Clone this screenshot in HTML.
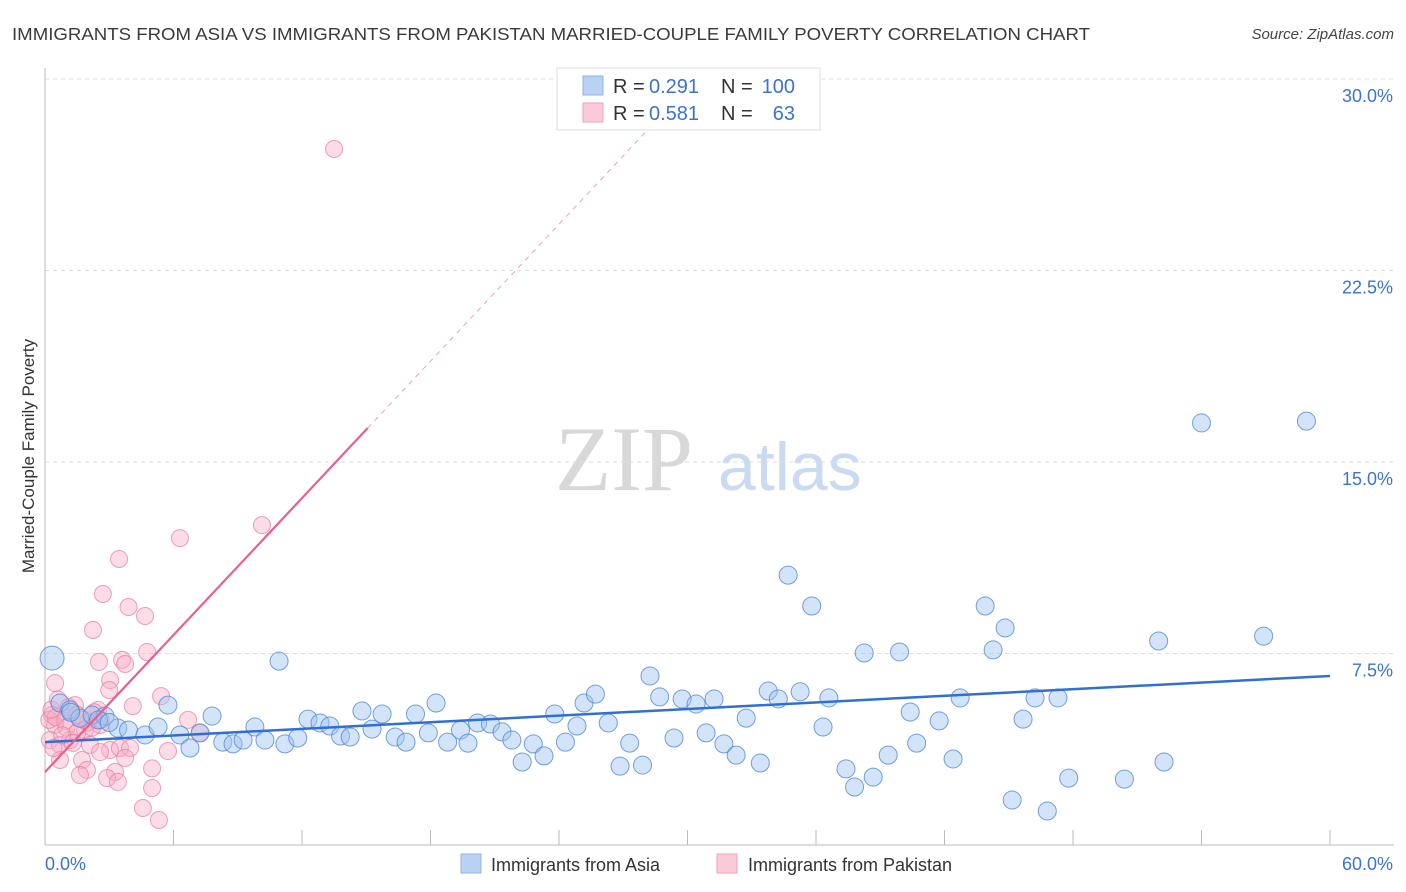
<!DOCTYPE html>
<html><head><meta charset="utf-8"><style>
body{margin:0;background:#fff;font-family:"Liberation Sans",sans-serif}
#wrap{position:relative;width:1406px;height:892px;overflow:hidden}
</style></head><body>
<div id="wrap">
<svg id="svg" width="1406" height="892" xmlns="http://www.w3.org/2000/svg">
<text x="12" y="40" font-size="17.5" fill="#3a3a3a" textLength="1078" lengthAdjust="spacingAndGlyphs">IMMIGRANTS FROM ASIA VS IMMIGRANTS FROM PAKISTAN MARRIED-COUPLE FAMILY POVERTY CORRELATION CHART</text>
<text x="1394" y="39" font-size="15" fill="#444" font-style="italic" text-anchor="end">Source: ZipAtlas.com</text>
<text x="555" y="490" font-size="92" fill="#d8d8d8" font-family="Liberation Serif,serif">ZIP</text>
<text x="718" y="490" font-size="68" fill="#c9daf2">atlas</text>
<text transform="translate(34,456) rotate(-90)" font-size="17" fill="#333" text-anchor="middle">Married-Couple Family Poverty</text>
<g id="grid"></g><g id="pts"></g><g id="lines"></g>
<g>
<rect x="557" y="68" width="263" height="62" fill="#fff" stroke="#ddd"/>
<rect x="583" y="76" width="20" height="19" fill="#b9d2f3" stroke="#8fb2e6"/>
<rect x="583" y="103" width="20" height="19" fill="#fbcad8" stroke="#f0a0b8"/>
<text x="613" y="93" font-size="20" fill="#333">R =</text>
<text x="649" y="93" font-size="20" fill="#3b73d1">0.291</text>
<text x="721" y="93" font-size="20" fill="#333">N =</text>
<text x="795" y="93" font-size="20" fill="#3b73d1" text-anchor="end">100</text>
<text x="613" y="120" font-size="20" fill="#333">R =</text>
<text x="649" y="120" font-size="20" fill="#3b73d1">0.581</text>
<text x="721" y="120" font-size="20" fill="#333">N =</text>
<text x="795" y="120" font-size="20" fill="#3b73d1" text-anchor="end">63</text>
</g>
<g>
<rect x="461" y="854" width="20" height="19" fill="#b9d2f3" stroke="#8fb2e6"/>
<text x="491" y="871" font-size="18" fill="#333">Immigrants from Asia</text>
<rect x="717" y="854" width="20" height="19" fill="#fbcad8" stroke="#f0a0b8"/>
<text x="748" y="871" font-size="18" fill="#333">Immigrants from Pakistan</text>
</g>
</svg>
</div>
<script>
const xTicks=[0,6,12,18,24,30,36,42,48,54,60];
const yTicks=[7.5,15,22.5,30];
const yTickLabels=["7.5%","15.0%","22.5%","30.0%"];
const asiaX=[0.33,0.7,1.17,1.63,2.2,2.8,3.4,3.9,4.67,5.28,5.74,6.3,6.77,7.24,7.8,8.3,8.78,9.25,9.8,10.27,10.93,11.2,11.8,12.28,12.84,13.3,13.8,14.25,14.8,15.27,15.74,16.35,16.86,17.3,17.9,18.26,18.8,19.4,19.75,20.2,20.8,21.34,21.8,22.28,22.8,23.3,23.8,24.3,24.84,25.17,25.7,26.3,26.85,27.3,27.9,28.25,28.7,29.37,29.75,30.4,30.87,31.24,31.7,32.27,32.74,33.4,33.77,34.24,34.7,35.26,35.8,36.33,36.6,37.4,37.8,38.25,38.67,39.37,39.9,40.4,40.7,41.75,42.4,42.73,43.9,44.27,44.83,45.16,45.67,46.23,46.8,47.3,47.8,50.4,52,52.25,54,56.9,58.9,1.2,2.5,3.0];
const asiaY=[7.32,5.56,5.29,4.97,5.09,5.05,4.58,4.5,4.31,4.62,5.48,4.31,3.8,4.39,5.05,4.03,3.96,4.11,4.62,4.11,7.2,3.96,4.19,4.93,4.78,4.66,4.27,4.23,5.25,4.54,5.13,4.23,4.03,5.13,4.39,5.56,4.03,4.5,3.99,4.78,4.74,4.43,4.11,3.25,3.96,3.49,5.13,4.03,4.66,5.56,5.91,4.78,3.09,3.99,3.13,6.62,5.8,4.19,5.72,5.52,4.39,5.72,3.96,3.52,4.97,3.21,6.03,5.72,10.57,6.0,9.36,4.62,5.76,2.98,2.27,7.52,2.66,3.52,7.56,5.21,3.99,4.86,3.37,5.76,9.36,7.64,8.5,1.76,4.93,5.76,1.33,5.76,2.62,2.58,7.99,3.25,16.53,8.18,16.6,5.2,4.9,4.8];
const pakX=[13.5,10.13,6.3,3.46,2.7,3.9,4.67,2.24,4.77,2.52,3.6,3.74,0.47,3.04,3.0,5.42,4.1,6.68,2.48,1.4,0.33,0.47,0.93,1.87,2.57,0.23,0.7,1.17,2.1,3.04,3.5,3.97,5.74,7.24,0.7,1.73,2.57,1.96,1.63,3.74,5.0,3.27,2.9,3.4,5.0,4.57,5.32,0.2,0.5,1.0,1.5,2.0,2.3,0.8,1.3,0.3,1.8,2.2,0.6,1.1,2.6,0.4,1.5];
const pakY=[27.26,12.53,12.02,11.2,9.83,9.32,8.97,8.42,7.56,7.17,7.25,7.09,6.34,6.46,6.07,5.83,5.44,4.9,5.29,5.48,5.09,4.7,4.86,4.5,4.7,4.11,3.92,4.11,3.92,3.72,3.8,3.8,3.68,4.39,3.33,3.33,3.64,2.94,2.74,3.41,3.0,2.86,2.62,2.47,2.23,1.45,0.98,4.9,5.0,4.6,4.4,4.8,5.2,4.3,4.0,5.3,4.9,4.6,5.7,5.4,4.9,3.8,5.1];
const asiaTrend=[4.03,6.62];
const pakTrend=[2.86,16.33];
const pakTrendEndX=15.07;
const X=v=>45+v/60*1285, Y=v=>845-v/7.5*191.5;
const NS="http://www.w3.org/2000/svg";
function mk(tag,attrs,parent){const e=document.createElementNS(NS,tag);for(const k in attrs)e.setAttribute(k,attrs[k]);parent.appendChild(e);return e;}
const grid=document.getElementById('grid');
yTicks.forEach((t,i)=>{
 const l=mk('line',{x1:45,x2:1394,y1:Y(t),y2:Y(t),stroke:'#ddd','stroke-dasharray':'4,4'},grid);
 
 
 const tx=mk('text',{x:1393,y:Y(t)+23,'font-size':18,fill:'#3b73d1','text-anchor':'end'},grid);
 tx.textContent=yTickLabels[i];
 
 
});
const ax=mk('line',{x1:45,x2:45,y1:68,y2:845,stroke:'#bbb'},grid);


const bx=mk('line',{x1:45,x2:1394,y1:845,y2:845,stroke:'#bbb'},grid);


xTicks.forEach(t=>{
 const l=mk('line',{x1:X(t),x2:X(t),y1:830,y2:845,stroke:'#bbb'},grid);
 
 
});
[[0,'0.0%','start',45],[60,'60.0%','end',1393]].forEach(a=>{
 const tx=mk('text',{x:a[3],y:870,'font-size':18,fill:'#3b73d1','text-anchor':a[2]},grid);
 tx.textContent=a[1];
 
 
});
const pts=document.getElementById('pts');
pakX.forEach((x,i)=>{
 const c=mk('circle',{cx:X(x),cy:Y(pakY[i]),r:8.5,fill:'rgba(248,170,195,0.4)',stroke:'rgba(232,120,155,0.7)','stroke-width':1},pts);
 
 
});
asiaX.forEach((x,i)=>{
 const c=mk('circle',{cx:X(x),cy:Y(asiaY[i]),r:i==0?12:9,fill:'rgba(160,195,240,0.45)',stroke:'rgba(70,130,215,0.75)','stroke-width':1},pts);
 
 
});
const lines=document.getElementById('lines');
const la=mk('line',{x1:X(0),y1:Y(asiaTrend[0]),x2:X(60),y2:Y(asiaTrend[1]),stroke:'#2f6fd6','stroke-width':2.5},lines);


const lp=mk('line',{x1:X(0),y1:Y(pakTrend[0]),x2:X(pakTrendEndX),y2:Y(pakTrend[1]),stroke:'#e8608a','stroke-width':2.2},lines);


const slope=(pakTrend[1]-pakTrend[0])/pakTrendEndX;
const ex=(30-pakTrend[0])/slope;
const ld=mk('line',{x1:X(pakTrendEndX),y1:Y(pakTrend[1]),x2:X(ex),y2:Y(30),stroke:'#e8a0b8','stroke-width':1,'stroke-dasharray':'5,5'},lines);


</script>
</body></html>
